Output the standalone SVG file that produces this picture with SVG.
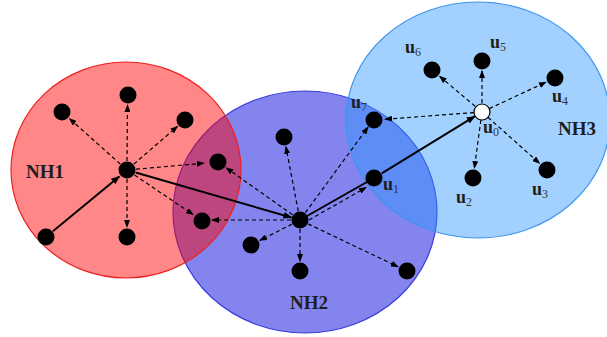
<svg xmlns="http://www.w3.org/2000/svg" width="607" height="337" viewBox="0 0 607 337">
  <style>
    .nh2 { fill: #8484ee; stroke: #3a3ae0; stroke-width: 1.2; }
    .nh1 { fill: rgb(255,0,0); fill-opacity: 0.47; stroke: #ee2020; stroke-width: 1.2; }
    .nh3 { fill: rgb(51,153,255); fill-opacity: 0.45; stroke: #3a96f0; stroke-width: 1.2; }
    .node { fill: #000; }
    .hollow { fill: #fff; stroke: #000; stroke-width: 1.2; }
    .dash { stroke: #000; stroke-width: 1.2; stroke-dasharray: 4 3; fill: none; marker-end: url(#tip); }
    .solid { stroke: #000; stroke-width: 2; fill: none; }
    .arr { marker-end: url(#tip2); }
    .lbl { font-family: "Liberation Serif", "Times New Roman", serif; font-weight: bold; fill: #1e1e1e; }
    .big { font-size: 19px; }
    .u { font-size: 18px; }
    .sub { font-size: 12px; font-weight: normal; fill: #333; }
  </style>
  <defs>
    <marker id="tip" markerUnits="userSpaceOnUse" markerWidth="8" markerHeight="6" refX="7" refY="3" orient="auto">
      <path d="M0,0 L8,3 L0,6 z" fill="#000"/>
    </marker>
    <marker id="tip2" markerUnits="userSpaceOnUse" markerWidth="9" markerHeight="7" refX="8" refY="3.5" orient="auto">
      <path d="M0,0 L9,3.5 L0,7 z" fill="#000"/>
    </marker>
  </defs>

  <!-- neighbourhood regions -->
  <g id="NH2">
    <ellipse class="nh2" cx="305" cy="212" rx="132" ry="121"/>
    <text class="lbl big" x="290" y="309">NH2</text>
  </g>
  <g id="NH1">
    <ellipse class="nh1" cx="126" cy="170" rx="115" ry="108"/>
    <text class="lbl big" x="26" y="178">NH1</text>
  </g>
  <g id="NH3">
    <ellipse class="nh3" cx="478" cy="120" rx="132" ry="118"/>
    <text class="lbl big" x="558" y="135">NH3</text>
  </g>

  <!-- connectors -->
  <g id="connectors">
    <!-- NH1 centre broadcasts -->
    <line class="dash" x1="120.3" y1="164" x2="69.5" y2="118.7"/>
    <line class="dash" x1="127" y1="161" x2="127.5" y2="105"/>
    <line class="dash" x1="133.8" y1="164.1" x2="177.4" y2="126.5"/>
    <line class="dash" x1="136" y1="169.2" x2="204" y2="163.2"/>
    <line class="dash" x1="134.5" y1="175" x2="193" y2="214.5"/>
    <line class="dash" x1="127" y1="179" x2="127" y2="227"/>
    <!-- NH2 centre broadcasts -->
    <line class="dash" x1="298.3" y1="211.2" x2="285.9" y2="146.8"/>
    <line class="dash" x1="292.6" y1="214.8" x2="226.2" y2="167.8"/>
    <line class="dash" x1="291" y1="220" x2="212" y2="220"/>
    <line class="dash" x1="292" y1="224.1" x2="259.9" y2="240.4"/>
    <line class="dash" x1="300" y1="229" x2="300" y2="261"/>
    <line class="dash" x1="308.1" y1="223.9" x2="398" y2="266.7"/>
    <line class="dash" x1="305.3" y1="212.7" x2="368.1" y2="127.1"/>
    <line class="dash" x1="309" y1="220" x2="366" y2="187.5"/>
    <!-- u0 broadcasts -->
    <line class="dash" x1="475.1" y1="106.2" x2="439.7" y2="76.4"/>
    <line class="dash" x1="482" y1="103" x2="482" y2="71"/>
    <line class="dash" x1="489.3" y1="108.6" x2="545.9" y2="82.2"/>
    <line class="dash" x1="488" y1="117.3" x2="539.5" y2="163.3"/>
    <line class="dash" x1="480.9" y1="120" x2="474.4" y2="168"/>
    <line class="dash" x1="474" y1="112.6" x2="385" y2="119.2"/>
    <!-- forwarding path -->
    <line class="solid arr" x1="52.9" y1="231.3" x2="119.3" y2="176.4"/>
    <line class="solid arr" x1="135.6" y1="172.5" x2="291.4" y2="217.5"/>
    <line class="solid" x1="300" y1="220" x2="374" y2="178"/>
    <line class="solid arr" x1="381.7" y1="173.3" x2="474.7" y2="116.4"/>
  </g>

  <!-- nodes -->
  <g id="n1-head"><circle class="node" cx="127" cy="170" r="8.5"/></g>
  <g id="n1-a"><circle class="node" cx="62" cy="112" r="8.5"/></g>
  <g id="n1-b"><circle class="node" cx="128" cy="95" r="8.5"/></g>
  <g id="n1-c"><circle class="node" cx="185" cy="120" r="8.5"/></g>
  <g id="n1-d"><circle class="node" cx="218" cy="162" r="8.5"/></g>
  <g id="n1-e"><circle class="node" cx="202" cy="221" r="8.5"/></g>
  <g id="n1-f"><circle class="node" cx="127" cy="237" r="8.5"/></g>
  <g id="n1-src"><circle class="node" cx="46" cy="237" r="8.5"/></g>

  <g id="n2-head"><circle class="node" cx="300" cy="220" r="8.5"/></g>
  <g id="n2-a"><circle class="node" cx="284" cy="137" r="8.5"/></g>
  <g id="n2-b"><circle class="node" cx="251" cy="245" r="8.5"/></g>
  <g id="n2-c"><circle class="node" cx="300" cy="271" r="8.5"/></g>
  <g id="n2-d"><circle class="node" cx="407" cy="271" r="8.5"/></g>

  <g id="u0">
    <circle class="hollow" cx="482" cy="112" r="8"/>
    <text class="lbl u" x="483" y="133">u<tspan class="sub" dy="3">0</tspan></text>
  </g>
  <g id="u1">
    <circle class="node" cx="374" cy="178" r="8.5"/>
    <text class="lbl u" x="383" y="190">u<tspan class="sub" dy="3">1</tspan></text>
  </g>
  <g id="u2">
    <circle class="node" cx="473" cy="178" r="8.5"/>
    <text class="lbl u" x="456" y="203">u<tspan class="sub" dy="3">2</tspan></text>
  </g>
  <g id="u3">
    <circle class="node" cx="547" cy="170" r="8.5"/>
    <text class="lbl u" x="532" y="195">u<tspan class="sub" dy="3">3</tspan></text>
  </g>
  <g id="u4">
    <circle class="node" cx="555" cy="78" r="8.5"/>
    <text class="lbl u" x="552" y="102">u<tspan class="sub" dy="3">4</tspan></text>
  </g>
  <g id="u5">
    <circle class="node" cx="482" cy="61" r="8.5"/>
    <text class="lbl u" x="490" y="48">u<tspan class="sub" dy="3">5</tspan></text>
  </g>
  <g id="u6">
    <circle class="node" cx="432" cy="70" r="8.5"/>
    <text class="lbl u" x="405" y="53">u<tspan class="sub" dy="3">6</tspan></text>
  </g>
  <g id="u7">
    <circle class="node" cx="374" cy="120" r="8.5"/>
    <text class="lbl u" x="351" y="108">u<tspan class="sub" dy="3">7</tspan></text>
  </g>
</svg>
